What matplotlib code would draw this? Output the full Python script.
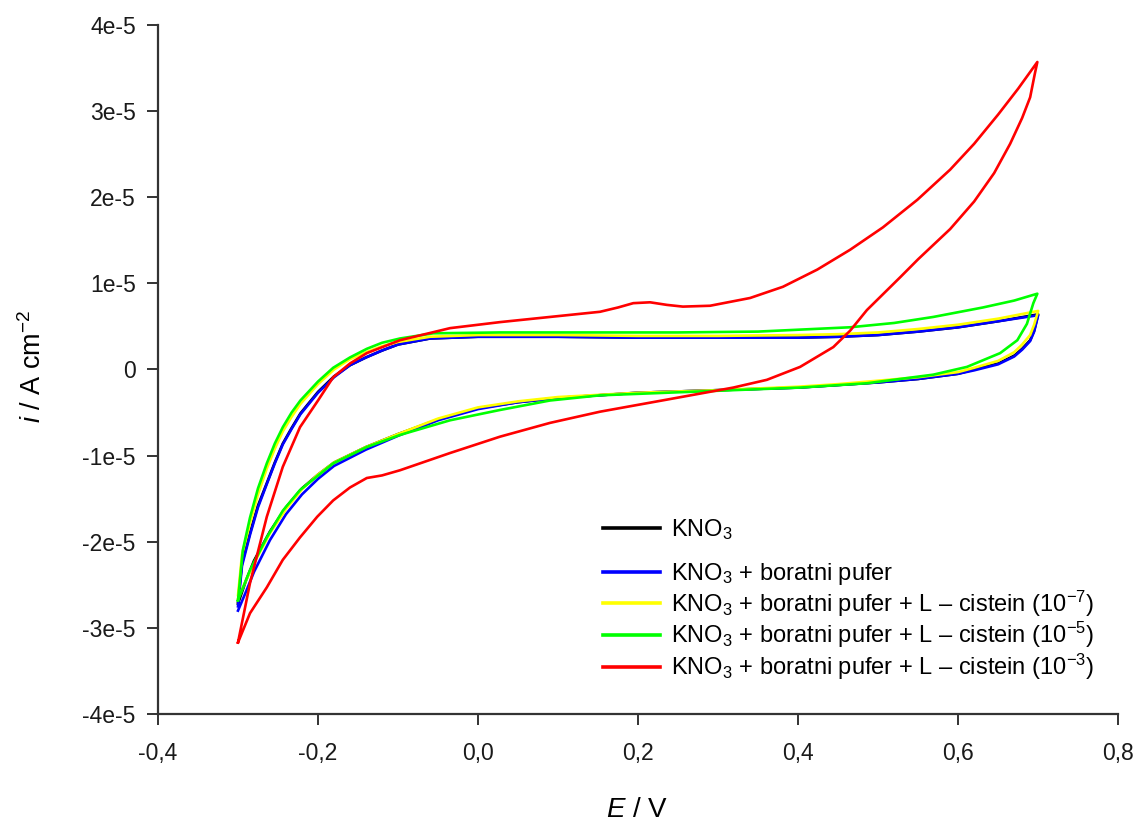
import numpy as np
import matplotlib
matplotlib.use("Agg")
import matplotlib.pyplot as plt
from matplotlib.ticker import FuncFormatter
from matplotlib.lines import Line2D

plt.rcParams['font.family'] = ['Liberation Sans', 'DejaVu Sans']
plt.rcParams['mathtext.fontset'] = 'custom'
plt.rcParams['mathtext.rm'] = 'Liberation Sans'
plt.rcParams['mathtext.it'] = 'Liberation Sans:italic'

# potential (V) and current density (x 1e-5 A cm^-2), forward then reverse scan
E_kno3 = [-0.30, -0.295, -0.285, -0.275, -0.264, -0.254, -0.244, -0.233, -0.222, -0.20, -0.18, -0.16,
          -0.14, -0.12, -0.10, -0.06, 0.0, 0.1, 0.2, 0.3, 0.4, 0.45, 0.5, 0.55, 0.6, 0.65, 0.7,
          0.695, 0.69, 0.68, 0.67, 0.65, 0.62, 0.6, 0.55, 0.5, 0.45, 0.4, 0.3, 0.2, 0.1, 0.05, 0.0,
          -0.05, -0.10, -0.14, -0.18, -0.20, -0.22, -0.24, -0.26, -0.28, -0.29, -0.30]
i_kno3 = [-2.70, -2.25, -1.90, -1.58, -1.32, -1.08, -0.86, -0.68, -0.51, -0.26, -0.08, 0.05,
          0.14, 0.22, 0.29, 0.36, 0.38, 0.38, 0.37, 0.37, 0.37, 0.38, 0.40, 0.44, 0.49, 0.56, 0.64,
          0.45, 0.34, 0.24, 0.16, 0.07, 0.0, -0.05, -0.11, -0.15, -0.18, -0.21, -0.24, -0.27, -0.33, -0.38, -0.45,
          -0.58, -0.75, -0.90, -1.08, -1.22, -1.38, -1.60, -1.88, -2.22, -2.45, -2.72]

E_bor = [-0.30, -0.295, -0.285, -0.275, -0.264, -0.254, -0.244, -0.233, -0.222, -0.20, -0.18, -0.16,
         -0.14, -0.12, -0.10, -0.06, 0.0, 0.1, 0.2, 0.3, 0.4, 0.45, 0.5, 0.55, 0.6, 0.65, 0.7,
         0.695, 0.69, 0.68, 0.67, 0.65, 0.62, 0.6, 0.55, 0.5, 0.45, 0.4, 0.3, 0.2, 0.1, 0.05, 0.0,
         -0.05, -0.10, -0.14, -0.18, -0.20, -0.22, -0.24, -0.26, -0.28, -0.29, -0.30]
i_bor = [-2.75, -2.28, -1.92, -1.60, -1.33, -1.09, -0.87, -0.69, -0.52, -0.27, -0.09, 0.05,
         0.14, 0.22, 0.29, 0.36, 0.38, 0.38, 0.37, 0.37, 0.37, 0.38, 0.40, 0.44, 0.49, 0.56, 0.63,
         0.44, 0.33, 0.23, 0.15, 0.06, -0.01, -0.05, -0.11, -0.15, -0.18, -0.21, -0.24, -0.27, -0.33, -0.38, -0.46,
         -0.59, -0.77, -0.93, -1.12, -1.27, -1.45, -1.68, -1.98, -2.35, -2.58, -2.80]

E_c7 = [-0.30, -0.295, -0.285, -0.275, -0.264, -0.254, -0.244, -0.233, -0.222, -0.20, -0.18, -0.16,
        -0.14, -0.12, -0.10, -0.06, 0.0, 0.1, 0.2, 0.3, 0.4, 0.45, 0.5, 0.55, 0.6, 0.65, 0.7,
        0.695, 0.69, 0.68, 0.67, 0.65, 0.62, 0.6, 0.55, 0.5, 0.45, 0.4, 0.3, 0.2, 0.1, 0.05, 0.0,
        -0.05, -0.10, -0.14, -0.18, -0.20, -0.22, -0.24, -0.26, -0.28, -0.29, -0.30]
i_c7 = [-2.62, -2.15, -1.78, -1.45, -1.15, -0.92, -0.72, -0.55, -0.40, -0.17, 0.0, 0.12,
        0.20, 0.27, 0.32, 0.38, 0.40, 0.40, 0.39, 0.39, 0.40, 0.41, 0.43, 0.47, 0.52, 0.59, 0.68,
        0.52, 0.40, 0.29, 0.20, 0.10, 0.02, -0.03, -0.09, -0.13, -0.17, -0.20, -0.24, -0.27, -0.32, -0.37, -0.44,
        -0.57, -0.75, -0.90, -1.08, -1.22, -1.39, -1.62, -1.90, -2.25, -2.45, -2.66]

E_c5 = [-0.30, -0.294, -0.285, -0.275, -0.264, -0.254, -0.244, -0.233, -0.222, -0.20, -0.181, -0.16,
        -0.139, -0.12, -0.0975, -0.056, 0.0275, 0.1525, 0.25, 0.35, 0.465, 0.52, 0.569, 0.631, 0.67, 0.699,
        0.694, 0.686, 0.674, 0.6525, 0.611, 0.569, 0.486, 0.4025, 0.319, 0.236, 0.1525, 0.09, 0.0275,
        -0.035, -0.0975, -0.139, -0.181, -0.2225, -0.244, -0.264, -0.285, -0.30]
i_c5 = [-2.68, -2.10, -1.72, -1.38, -1.09, -0.86, -0.67, -0.50, -0.36, -0.14, 0.02, 0.14,
        0.24, 0.31, 0.36, 0.42, 0.43, 0.43, 0.43, 0.44, 0.49, 0.54, 0.61, 0.72, 0.80, 0.88,
        0.77, 0.53, 0.34, 0.19, 0.03, -0.06, -0.16, -0.21, -0.24, -0.27, -0.30, -0.36, -0.47,
        -0.59, -0.76, -0.90, -1.09, -1.40, -1.64, -1.95, -2.33, -2.68]

E_c3 = [-0.30, -0.285, -0.264, -0.244, -0.2225, -0.20, -0.181, -0.16, -0.139, -0.0975, -0.035, 0.0275,
        0.09, 0.1525, 0.175, 0.194, 0.215, 0.236, 0.256, 0.29, 0.34, 0.381, 0.424, 0.465, 0.506, 0.549,
        0.59, 0.62, 0.65, 0.675, 0.699,
        0.696, 0.69, 0.68, 0.665, 0.645, 0.62, 0.59, 0.55, 0.5275, 0.486, 0.465, 0.444, 0.4025, 0.361, 0.319,
        0.236, 0.1525, 0.09, 0.0275, -0.035, -0.0975, -0.12, -0.139, -0.16, -0.181, -0.201, -0.2225,
        -0.244, -0.264, -0.285, -0.30]
i_c3 = [-3.17, -2.48, -1.71, -1.13, -0.67, -0.36, -0.09, 0.07, 0.19, 0.34, 0.48, 0.55,
        0.61, 0.67, 0.72, 0.77, 0.78, 0.75, 0.73, 0.74, 0.83, 0.96, 1.16, 1.39, 1.65, 1.97,
        2.32, 2.62, 2.96, 3.26, 3.57,
        3.44, 3.16, 2.92, 2.62, 2.28, 1.95, 1.63, 1.28, 1.07, 0.69, 0.45, 0.26, 0.03, -0.12, -0.21,
        -0.35, -0.49, -0.62, -0.78, -0.97, -1.17, -1.23, -1.26, -1.37, -1.52, -1.71, -1.95,
        -2.21, -2.53, -2.83, -3.17]

labels = ['KNO$_3$',
          'KNO$_3$ + boratni pufer',
          'KNO$_3$ + boratni pufer + L – cistein (10$^{-7}$)',
          'KNO$_3$ + boratni pufer + L – cistein (10$^{-5}$)',
          'KNO$_3$ + boratni pufer + L – cistein (10$^{-3}$)']
colors = ['#000000', '#0000ff', '#ffff00', '#00ff00', '#ff0000']
series = [(E_kno3, i_kno3), (E_bor, i_bor), (E_c7, i_c7), (E_c5, i_c5), (E_c3, i_c3)]

fig = plt.figure(figsize=(11.39, 8.24), dpi=100)
ax = fig.add_axes([0.1387, 0.1335, 0.8430, 0.8362])

for (E, i), c, lab in zip(series, colors, labels):
    ax.plot(E, np.array(i) * 1e-5, color=c, lw=1.9, label=lab, solid_joinstyle='round')

ax.set_xlim(-0.4, 0.8)
ax.set_ylim(-4e-5, 4e-5)
ax.set_xticks(np.arange(-0.4, 0.81, 0.2))
ax.set_yticks(np.arange(-4e-5, 4.1e-5, 1e-5))
ax.xaxis.set_major_formatter(FuncFormatter(lambda v, p: f"{v:.1f}".replace('.', ',').replace('-0,0', '0,0')))
ax.yaxis.set_major_formatter(FuncFormatter(lambda v, p: '0' if abs(v) < 1e-9 else f"{int(round(v * 1e5))}e-5"))

for s in ['top', 'right']:
    ax.spines[s].set_visible(False)
for s in ['left', 'bottom']:
    ax.spines[s].set_linewidth(1.6)
    ax.spines[s].set_color('#333333')
ax.tick_params(direction='out', length=8, width=1.4, color='#333333', labelsize=16.5, labelcolor='#1a1a1a')
ax.tick_params(axis='x', pad=12)
ax.tick_params(axis='y', pad=8)

ax.set_xlabel('$E$ / V', fontsize=20)
ax.set_ylabel('$i$ / A cm$^{-2}$', fontsize=19.5)
ax.xaxis.set_label_coords(0.499, -0.12)
ax.yaxis.set_label_coords(-0.116, 0.505)

handles = [Line2D([], [], color=c, lw=2.6) for c in colors]
leg1 = ax.legend(handles[:1], labels[:1], loc='upper left', bbox_to_anchor=(0.4635, 0.286),
                 frameon=False, fontsize=17, handlelength=2.4, handletextpad=0.5,
                 borderaxespad=0, borderpad=0)
ax.add_artist(leg1)
ax.legend(handles[1:], labels[1:], loc='upper left', bbox_to_anchor=(0.4635, 0.222),
          frameon=False, fontsize=17, handlelength=2.4, handletextpad=0.5, labelspacing=0.06,
          borderaxespad=0, borderpad=0)

fig.savefig('out.png', dpi=100)
